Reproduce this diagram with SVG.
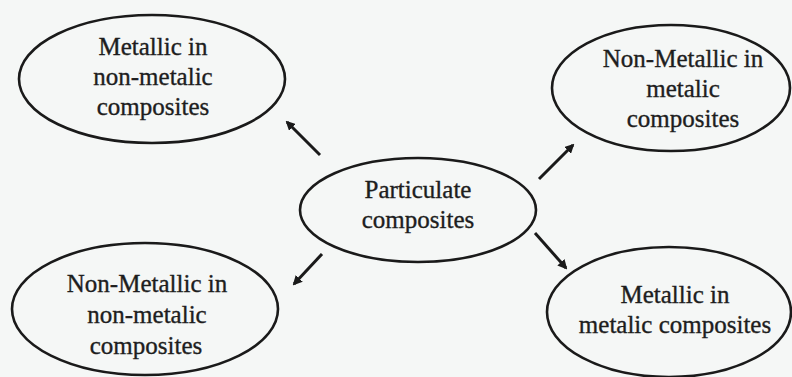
<svg xmlns="http://www.w3.org/2000/svg" width="792" height="377" viewBox="0 0 792 377">
  <defs>
    <marker id="ah" viewBox="0 0 10 10" refX="8" refY="5" markerWidth="3.2" markerHeight="3.2" orient="auto" markerUnits="strokeWidth">
      <path d="M0,0 L10,5 L0,10 Z" fill="#1a1a1a"/>
    </marker>
    <style>
      .bg { fill: #f5f7f6; }
      .node ellipse { fill: none; stroke: #1a1a1a; stroke-width: 2.6; }
      .node text { font-family: "Liberation Serif", "DejaVu Serif", serif; font-size: 25px; fill: #1e1e1e; stroke: #1e1e1e; stroke-width: 0.35; text-anchor: middle; }
      .conn line { stroke: #1a1a1a; stroke-width: 3; marker-end: url(#ah); }
    </style>
  </defs>
  <rect class="bg" x="0" y="0" width="792" height="377"/>

  <g id="connectors" class="conn">
    <line x1="320" y1="155" x2="287" y2="122"/>
    <line x1="539" y1="179" x2="573" y2="145"/>
    <line x1="322" y1="254" x2="294" y2="284"/>
    <line x1="535" y1="233" x2="566" y2="268"/>
  </g>

  <g id="node-center" class="node">
    <ellipse cx="418" cy="210" rx="118" ry="52"/>
    <text x="418" y="198">Particulate</text>
    <text x="418" y="228">composites</text>
  </g>

  <g id="node-top-left" class="node">
    <ellipse cx="152" cy="79" rx="133" ry="64"/>
    <text x="153" y="55">Metallic in</text>
    <text x="153" y="85">non-metalic</text>
    <text x="153" y="115">composites</text>
  </g>

  <g id="node-top-right" class="node">
    <ellipse cx="671" cy="88" rx="119" ry="63"/>
    <text x="683" y="67">Non-Metallic in</text>
    <text x="683" y="97">metalic</text>
    <text x="683" y="127">composites</text>
  </g>

  <g id="node-bottom-left" class="node">
    <ellipse cx="145" cy="309" rx="133" ry="66"/>
    <text x="147" y="292">Non-Metallic in</text>
    <text x="147" y="323">non-metalic</text>
    <text x="146" y="354">composites</text>
  </g>

  <g id="node-bottom-right" class="node">
    <ellipse cx="669" cy="312" rx="122" ry="65"/>
    <text x="675" y="303">Metallic in</text>
    <text x="675" y="333">metalic composites</text>
  </g>
</svg>
